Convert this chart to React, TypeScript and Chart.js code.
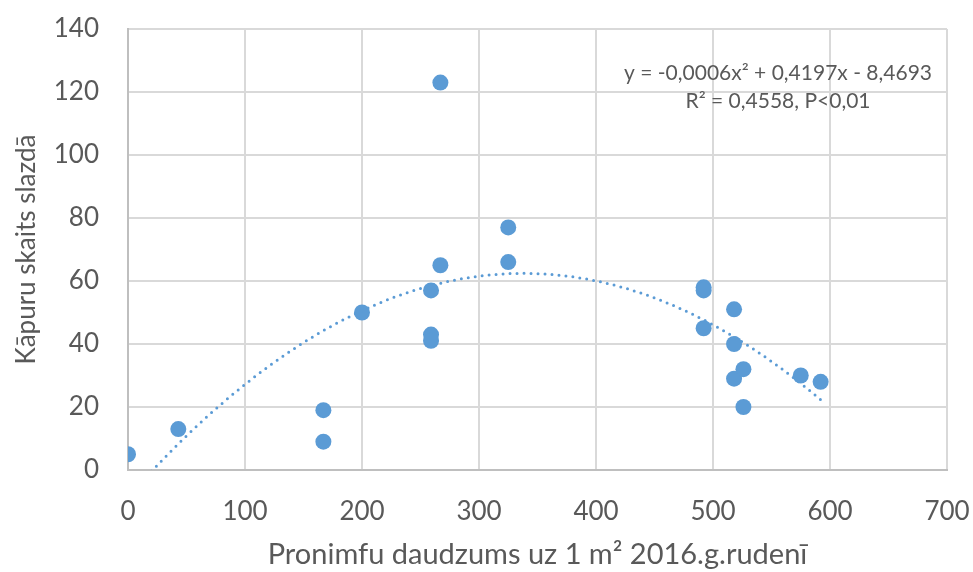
import React, { useEffect, useRef } from "react";
import { Chart, registerables } from "chart.js";

Chart.register(...registerables);

const xValues = [0, 43, 167, 167, 200, 259, 259, 259, 267, 267, 325, 325, 492, 492, 492, 518, 518, 518, 526, 526, 575, 592];
const yValues = [5, 13, 19, 9, 50, 57, 43, 41, 65, 123, 77, 66, 58, 57, 45, 51, 40, 29, 32, 20, 30, 28];
const equationLines = ["y = -0,0006x² + 0,4197x - 8,4693", "R² = 0,4558, P<0,01"];
const xTitle = "Pronimfu daudzums uz 1 m² 2016.g.rudenī";
const yTitle = "Kāpuru skaits slazdā";

const FONT = "Lato";
const TEXT = "#595959";
const BLUE = "#5B9BD5";

// least-squares quadratic fit (Excel polynomial trendline, order 2)
function quadFit(xs: number[], ys: number[]) {
  const n = xs.length;
  let s1 = 0, s2 = 0, s3 = 0, s4 = 0, t0 = 0, t1 = 0, t2 = 0;
  for (let i = 0; i < n; i++) {
    const x = xs[i], y = ys[i];
    s1 += x; s2 += x * x; s3 += x * x * x; s4 += x * x * x * x;
    t0 += y; t1 += x * y; t2 += x * x * y;
  }
  const M = [
    [n, s1, s2, t0],
    [s1, s2, s3, t1],
    [s2, s3, s4, t2],
  ];
  for (let c = 0; c < 3; c++) {
    let p = c;
    for (let r = c + 1; r < 3; r++) if (Math.abs(M[r][c]) > Math.abs(M[p][c])) p = r;
    [M[c], M[p]] = [M[p], M[c]];
    for (let r = 0; r < 3; r++) {
      if (r === c) continue;
      const f = M[r][c] / M[c][c];
      for (let k = c; k < 4; k++) M[r][k] -= f * M[c][k];
    }
  }
  return [M[0][3] / M[0][0], M[1][3] / M[1][1], M[2][3] / M[2][2]];
}

export default function App() {
  const ref = useRef<HTMLCanvasElement>(null);
  useEffect(() => {
    if (!ref.current) return;
    const [c0, c1, c2] = quadFit(xValues, yValues);
    const xMin = Math.min(...xValues);
    const xMax = Math.max(...xValues);
    const trend: { x: number; y: number }[] = [];
    for (let x = xMin; x <= xMax; x += 2) trend.push({ x, y: c0 + c1 * x + c2 * x * x });
    trend.push({ x: xMax, y: c0 + c1 * xMax + c2 * xMax * xMax });

    const annot = {
      id: "annot",
      afterDatasetsDraw(chart: any) {
        const ctx = chart.ctx;
        ctx.save();
        ctx.fillStyle = TEXT;
        ctx.font = `21px ${FONT}`;
        ctx.textAlign = "center";
        ctx.textBaseline = "middle";
        ctx.fillText(equationLines[0], 778, 73);
        ctx.fillText(equationLines[1], 778, 101);
        ctx.restore();
      },
    };

    const chart = new Chart(ref.current, {
      type: "scatter",
      data: {
        datasets: [
          {
            type: "line",
            data: trend,
            borderColor: BLUE,
            borderWidth: 3,
            borderDash: [0, 7],
            borderCapStyle: "round",
            pointRadius: 0,
            fill: false,
            tension: 0,
          } as any,
          {
            data: xValues.map((x, i) => ({ x, y: yValues[i] })),
            backgroundColor: BLUE,
            borderColor: BLUE,
            pointRadius: 8,
            borderWidth: 0,
          },
        ],
      },
      options: {
        responsive: false,
        animation: false,
        layout: { padding: { top: 29, right: 26, left: 0, bottom: 0 } },
        plugins: { legend: { display: false }, tooltip: { enabled: false } },
        scales: {
          x: {
            type: "linear",
            min: 0,
            max: 700,
            ticks: { stepSize: 100, font: { family: FONT, size: 26 }, color: TEXT, padding: 26 },
            grid: { color: "#D9D9D9", lineWidth: 2, drawTicks: false },
            border: { color: "#BFBFBF", width: 2 },
            title: {
              display: true,
              text: xTitle,
              font: { family: FONT, size: 29 },
              color: TEXT,
              padding: { top: 0, bottom: 0 },
            },
            afterFit: (s: any) => {
              s.height = 102;
              s.paddingLeft = 0;
              s.paddingRight = 0;
            },
          },
          y: {
            type: "linear",
            min: 0,
            max: 140,
            ticks: { stepSize: 20, font: { family: FONT, size: 26 }, color: TEXT, padding: 29 },
            grid: { color: "#D9D9D9", lineWidth: 2, drawTicks: false },
            border: { color: "#BFBFBF", width: 2 },
            title: {
              display: true,
              text: yTitle,
              font: { family: FONT, size: 26 },
              color: TEXT,
              padding: { top: 11, bottom: 0 },
            },
            afterFit: (s: any) => {
              s.width = 128;
              s.paddingTop = 0;
              s.paddingBottom = 0;
            },
          },
        },
      },
      plugins: [annot],
    });
    return () => chart.destroy();
  }, []);
  return (
    <div style={{ position: "absolute", left: 0, top: 0, width: 973, height: 572, background: "#fff" }}>
      <canvas ref={ref} width={973} height={572} />
    </div>
  );
}
